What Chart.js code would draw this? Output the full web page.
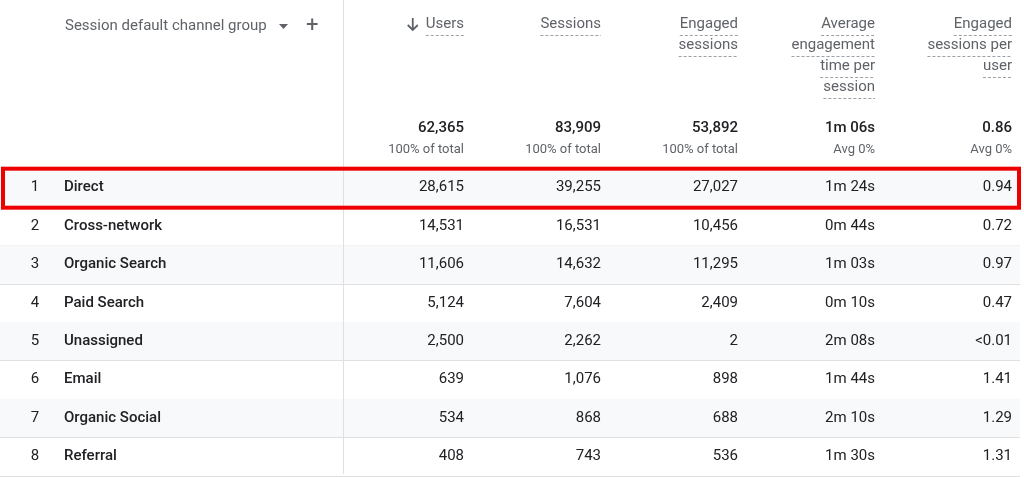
<!DOCTYPE html>
<html><head><meta charset="utf-8">
<script src="https://cdn.jsdelivr.net/npm/chart.js@4"></script>
<style>html,body{margin:0;padding:0;background:#fff}#w{width:1024px;height:477px}</style>
</head><body><div id="w"><canvas id="c"></canvas></div>
<script>
const channels = ["Direct","Cross-network","Organic Search","Paid Search","Unassigned","Email","Organic Social","Referral"];
const users = ["28,615","14,531","11,606","5,124","2,500","639","534","408"];
const sessions = ["39,255","16,531","14,632","7,604","2,262","1,076","868","743"];
const engaged = ["27,027","10,456","11,295","2,409","2","898","688","536"];
const avgTime = ["1m 24s","0m 44s","1m 03s","0m 10s","2m 08s","1m 44s","2m 10s","1m 30s"];
const perUser = ["0.94","0.72","0.97","0.47","<0.01","1.41","1.29","1.31"];
const totals = ["62,365","83,909","53,892","1m 06s","0.86"];
const totalSubs = ["100% of total","100% of total","100% of total","Avg 0%","Avg 0%"];
const headers = [["Users"],["Sessions"],["Engaged","sessions"],["Average","engagement","time per","session"],["Engaged","sessions per","user"]];
const colRight = [464,601,738,875,1012];
const cols = [users,sessions,engaged,avgTime,perUser];

const tablePlugin = {
  id:'table',
  beforeDatasetsDraw(chart){
    const ctx=chart.ctx, y=chart.scales.y;
    const step = y.getPixelForValue(1)-y.getPixelForValue(0);
    ctx.save();
    channels.forEach((c,i)=>{
      const cy=y.getPixelForValue(i);
      if(i%2===0){ctx.fillStyle='#f8f9fa';ctx.fillRect(0,cy-step/2,1020,step);}
      ctx.strokeStyle='#e0e0e0';ctx.lineWidth=1;
      ctx.beginPath();ctx.moveTo(0,Math.round(cy+step/2)+0.5);ctx.lineTo(1020,Math.round(cy+step/2)+0.5);ctx.stroke();
    });
    ctx.beginPath();ctx.moveTo(343.5,0);ctx.lineTo(343.5,474);ctx.stroke();
    ctx.textBaseline='middle';
    channels.forEach((c,i)=>{
      const cy=y.getPixelForValue(i);
      ctx.fillStyle='#202124';ctx.font='15px Roboto';ctx.textAlign='center';
      ctx.fillText(String(i+1),35,cy);
      ctx.font='500 15px Roboto';ctx.textAlign='left';ctx.fillText(c,64,cy);
      ctx.font='15px Roboto';ctx.textAlign='right';
      cols.forEach((col,k)=>ctx.fillText(col[i],colRight[k],cy));
    });
    ctx.fillStyle='#5f6368';ctx.font='15px Roboto';ctx.textAlign='left';
    ctx.fillText('Session default channel group',65,26);
    ctx.beginPath();ctx.moveTo(279,24);ctx.lineTo(288,24);ctx.lineTo(283.5,29);ctx.closePath();ctx.fill();
    ctx.font='22px Roboto';ctx.fillText('+',306,26);
    headers.forEach((h,k)=>{
      ctx.font='15px Roboto';ctx.textAlign='right';ctx.fillStyle='#5f6368';
      h.forEach((t,j)=>{
        const ty=24+j*21;ctx.fillText(t,colRight[k],ty);
        const w=ctx.measureText(t).width;
        ctx.strokeStyle='#9aa0a6';ctx.lineWidth=1;ctx.setLineDash([3,2]);ctx.beginPath();
        ctx.moveTo(colRight[k]-w,ty+11.5);ctx.lineTo(colRight[k],ty+11.5);ctx.stroke();ctx.setLineDash([]);
        if(k===0){
          const ax=colRight[k]-w-13;
          ctx.strokeStyle='#5f6368';ctx.lineWidth=1.8;ctx.beginPath();
          ctx.moveTo(ax,ty-6);ctx.lineTo(ax,ty+6);ctx.moveTo(ax-5,ty+1);ctx.lineTo(ax,ty+6);ctx.lineTo(ax+5,ty+1);ctx.stroke();
        }
      });
      ctx.fillStyle='#202124';ctx.font='500 15px Roboto';ctx.fillText(totals[k],colRight[k],128);
      ctx.fillStyle='#5f6368';ctx.font='13px Roboto';ctx.fillText(totalSubs[k],colRight[k],150);
    });
    const c0=y.getPixelForValue(0);
    ctx.strokeStyle='#ee0000';ctx.lineWidth=4;ctx.strokeRect(3,c0-19,1016,39);
    ctx.restore();
  }
};
new Chart(document.getElementById('c'),{
  type:'bar',
  data:{labels:channels,datasets:[{data:channels.map(()=>0),backgroundColor:'transparent'}]},
  options:{indexAxis:'y',responsive:true,maintainAspectRatio:false,animation:false,
    layout:{padding:{top:168.5,bottom:1.5,left:0,right:0}},
    plugins:{legend:{display:false},tooltip:{enabled:false}},
    scales:{x:{display:false,min:0,max:1},y:{display:false}}},
  plugins:[tablePlugin]
});
</script></body></html>
